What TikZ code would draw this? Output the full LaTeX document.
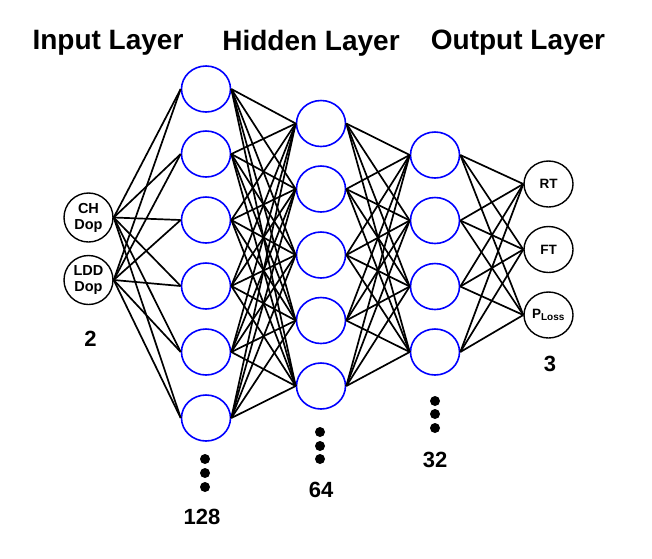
\documentclass[tikz,border=0pt]{standalone}
\usepackage{fontspec}
\setmainfont{Liberation Sans}
\usetikzlibrary{shapes.geometric}
\begin{document}
\begin{tikzpicture}[x=1pt,y=-1pt,
  hid/.style={ellipse,draw=blue,line width=1.6pt,minimum width=49pt,minimum height=46pt,inner sep=0pt},
  io/.style={circle,draw=black,line width=1.4pt,minimum size=49pt,inner sep=0pt,font=\bfseries\fontsize{14.5}{16}\selectfont,align=center},
  outn/.style={ellipse,draw=black,line width=1.4pt,minimum width=49pt,minimum height=46pt,inner sep=0pt,font=\bfseries\fontsize{13.5}{15}\selectfont},
  edge/.style={line width=1.7pt,black},
  title/.style={font=\bfseries\fontsize{28}{30}\selectfont},
  num/.style={font=\bfseries\fontsize{22}{24}\selectfont},
  dot/.style={circle,fill=black,inner sep=0pt,minimum size=10pt}]
\useasboundingbox (0,0) rectangle (652,558);
% titles
\node[title] (t1) at (108,43) {Input Layer};
\node[title] (t2) at (311,43) {Hidden Layer};
\node[title] (t3) at (518,43) {Output Layer};
% input
\node[io] (i1) at (88.5,217.5) {CH\\Dop};
\node[io] (i2) at (88.5,280) {LDD\\Dop};
% layer 1
\foreach \y [count=\k] in {89,154,220,286,352,418}
  \node[hid] (a\k) at (206,\y) {};
% layer 2
\foreach \y [count=\k] in {123.5,189,255,320.5,386}
  \node[hid] (b\k) at (321,\y) {};
% layer 3
\foreach \y [count=\k] in {155,220.5,286.5,352}
  \node[hid] (c\k) at (435,\y) {};
% output
\node[outn] (o1) at (548.5,184) {RT};
\node[outn] (o2) at (548.5,249.5) {FT};
\node[outn] (o3) at (548.5,315) {P\textsubscript{\fontsize{10}{11}\selectfont Loss}};
% edges
\foreach \s in {1,2} \foreach \t in {1,...,6} \draw[edge] (i\s.east) -- (a\t.west);
\foreach \s in {1,...,6} \foreach \t in {1,...,5} \draw[edge] (a\s.east) -- (b\t.west);
\foreach \s in {1,...,5} \foreach \t in {1,...,4} \draw[edge] (b\s.east) -- (c\t.west);
\foreach \s in {1,...,4} \foreach \t in {1,2,3} \draw[edge] (c\s.east) -- (o\t.west);
% dots
\node[dot] (d11) at (205,459) {};
\node[dot] (d12) at (205,473) {};
\node[dot] (d13) at (205,487) {};
\node[dot] (d21) at (320,432) {};
\node[dot] (d22) at (320,446) {};
\node[dot] (d23) at (320,459) {};
\node[dot] (d31) at (435,401) {};
\node[dot] (d32) at (435,414) {};
\node[dot] (d33) at (435,428) {};
% numbers
\node[num] (n0) at (90.5,338.5) {2};
\node[num] (n1) at (202,517) {128};
\node[num] (n2) at (321,490) {64};
\node[num] (n3) at (435,460) {32};
\node[num] (n4) at (550,364) {3};
\end{tikzpicture}
\end{document}
